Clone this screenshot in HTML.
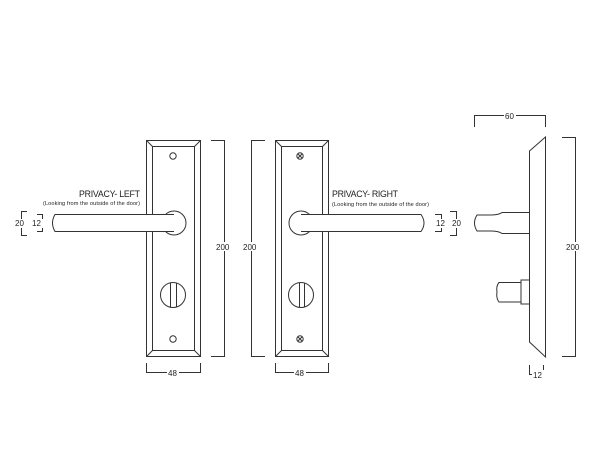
<!DOCTYPE html>
<html><head><style>
html,body{margin:0;padding:0;background:#fff;}
svg{display:block;}
text{font-family:"Liberation Sans",sans-serif;fill:#222;}
</style></head><body>
<svg width="600" height="464" viewBox="0 0 600 464" xmlns="http://www.w3.org/2000/svg">
<g fill="none" stroke="#333" stroke-width="1">
<!-- LEFT PLATE -->
<rect x="146.5" y="140.5" width="54" height="216"/>
<rect x="152.5" y="146.5" width="42" height="204"/>
<line x1="146.5" y1="140.5" x2="152.5" y2="146.5"/>
<line x1="200.5" y1="140.5" x2="194.5" y2="146.5"/>
<line x1="146.5" y1="356.5" x2="152.5" y2="350.5"/>
<line x1="200.5" y1="356.5" x2="194.5" y2="350.5"/>
<circle cx="173" cy="156" r="3.2"/>
<circle cx="173" cy="339" r="3.2"/>
<circle cx="174" cy="223" r="12"/>
<path d="M174,214.5 H55 Q50,223 55,231.5 H174" fill="#fff"/>
<circle cx="173" cy="295" r="12.5"/>
<line x1="170.5" y1="283" x2="170.5" y2="307"/>
<line x1="176.5" y1="283" x2="176.5" y2="307"/>
<!-- left dims -->
<path d="M27,211.5 H21.5 V235.5 H27"/>
<path d="M37,214.5 H42.5 V231.5 H37"/>
<path d="M211,140.5 H224.5 V356.5 H211"/>
<path d="M146.5,363 V372.5 H200.5 V363"/>
<!-- RIGHT PLATE -->
<rect x="275.5" y="140.5" width="53" height="216"/>
<rect x="281.5" y="146.5" width="41" height="204"/>
<line x1="275.5" y1="140.5" x2="281.5" y2="146.5"/>
<line x1="328.5" y1="140.5" x2="322.5" y2="146.5"/>
<line x1="275.5" y1="356.5" x2="281.5" y2="350.5"/>
<line x1="328.5" y1="356.5" x2="322.5" y2="350.5"/>
<circle cx="300" cy="156" r="3.2"/>
<path d="M298,154 l4,4 M302,154 l-4,4"/>
<circle cx="300" cy="339" r="3.2"/>
<path d="M298,337 l4,4 M302,337 l-4,4"/>
<circle cx="301" cy="223" r="12"/>
<path d="M301,214.5 H421 Q427,223 421,231.5 H301" fill="#fff"/>
<circle cx="301" cy="295" r="12.5"/>
<line x1="299.5" y1="283" x2="299.5" y2="307"/>
<line x1="304.5" y1="283" x2="304.5" y2="307"/>
<!-- right dims -->
<path d="M435,214.5 H441.5 V231.5 H435"/>
<path d="M450,211.5 H456.5 V235.5 H450"/>
<path d="M265,140.5 H251.5 V356.5 H265"/>
<path d="M275.5,363 V372.5 H328.5 V363"/>
<!-- SIDE VIEW -->
<path d="M529.5,151 L545.5,137 V357 L529.5,342 Z"/>
<path d="M529.5,212.5 H502 Q499,215 490,215 H477 Q472,223 477,231 H490 Q499,231 502,233.5 H529.5"/>
<path d="M529.5,280 H521 V304 H529.5"/>
<path d="M521,282.5 H499 Q496,286 497,292 Q496,298 499,302 H521"/>
<path d="M474.5,127 V115.5 H545.5 V127"/>
<path d="M562,137.5 H575.5 V356.5 H562"/>
<path d="M529.5,365 V374.5 H543.5 V365"/>
</g>
<g font-size="8">
<text x="79" y="197" font-size="8.8" textLength="61">PRIVACY- LEFT</text>
<text x="43" y="205" font-size="5.6" textLength="97">(Looking from the outside of the door)</text>
<text x="332" y="197" font-size="8.8" textLength="66">PRIVACY- RIGHT</text>
<text x="332" y="206" font-size="5.6" textLength="97">(Looking from the outside of the door)</text>
<rect x="14" y="219" width="12" height="9" fill="#fff"/>
<text x="15" y="226">20</text>
<rect x="31" y="219" width="12" height="9" fill="#fff"/>
<text x="32" y="226">12</text>
<rect x="216" y="242" width="16" height="9" fill="#fff"/>
<text x="216" y="250">200</text>
<rect x="243" y="242" width="16" height="9" fill="#fff"/>
<text x="243" y="250">200</text>
<rect x="167" y="368" width="12" height="9" fill="#fff"/>
<text x="168" y="376">48</text>
<rect x="294" y="368" width="12" height="9" fill="#fff"/>
<text x="295" y="376">48</text>
<rect x="436" y="219" width="12" height="9" fill="#fff"/>
<text x="436" y="226">12</text>
<rect x="452" y="219" width="12" height="9" fill="#fff"/>
<text x="452" y="226">20</text>
<rect x="504" y="111" width="12" height="9" fill="#fff"/>
<text x="505" y="119">60</text>
<rect x="566" y="242" width="16" height="9" fill="#fff"/>
<text x="566" y="250">200</text>
<rect x="532" y="370" width="12" height="9" fill="#fff"/>
<text x="533" y="378">12</text>
</g>
</svg>
</body></html>
